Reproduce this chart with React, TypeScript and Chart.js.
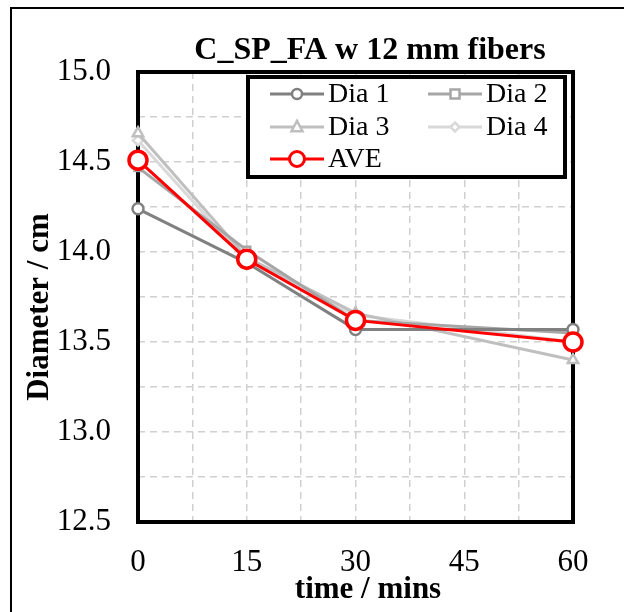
import React, { useEffect, useRef } from "react";
import { Chart, registerables } from "chart.js";

Chart.register(...registerables);

const times = [0, 15, 30, 60];
const dia1 = [14.24, 13.94, 13.57, 13.57];
const dia2 = [14.47, 14.01, 13.62, 13.55];
const dia3 = [14.66, 13.97, 13.66, 13.4];
const dia4 = [14.62, 13.95, 13.65, 13.5];
const ave = [14.51, 13.96, 13.62, 13.5];
const seriesNames = ["Dia 1", "Dia 2", "Dia 3", "Dia 4", "AVE"];
const xTickLabels = ["0", "15", "30", "45", "60"];
const yTickLabels = ["12.5", "13.0", "13.5", "14.0", "14.5", "15.0"];
const titleText = "C_SP_FA w 12 mm fibers";
const xTitle = "time / mins";
const yTitle = "Diameter / cm";

const SERIF = "'Liberation Serif', 'Times New Roman', serif";

type Style = { color: string; shape: string; r: number; lw: number };
const styles: Style[] = [
  { color: "#808080", shape: "circle", r: 5.5, lw: 3 },
  { color: "#a6a6a6", shape: "rect", r: 5, lw: 3 },
  { color: "#bfbfbf", shape: "triangle", r: 6, lw: 3 },
  { color: "#d9d9d9", shape: "rectRot", r: 5, lw: 3 },
  { color: "#ff0000", shape: "circle", r: 9, lw: 3 },
];

function drawMarker(ctx: CanvasRenderingContext2D, shape: string, x: number, y: number, r: number, color: string, bw: number) {
  ctx.save();
  ctx.fillStyle = "#ffffff";
  ctx.strokeStyle = color;
  ctx.lineWidth = bw;
  ctx.setLineDash([]);
  ctx.beginPath();
  if (shape === "circle") {
    ctx.arc(x, y, r, 0, Math.PI * 2);
  } else if (shape === "rect") {
    ctx.rect(x - r, y - r, 2 * r, 2 * r);
  } else if (shape === "triangle") {
    ctx.moveTo(x, y - r * 1.1);
    ctx.lineTo(x + r, y + r * 0.75);
    ctx.lineTo(x - r, y + r * 0.75);
    ctx.closePath();
  } else if (shape === "rectRot") {
    ctx.moveTo(x, y - r);
    ctx.lineTo(x + r, y);
    ctx.lineTo(x, y + r);
    ctx.lineTo(x - r, y);
    ctx.closePath();
  }
  ctx.fill();
  ctx.stroke();
  ctx.restore();
}

const decorPlugin = {
  id: "decor",
  beforeDraw(chart: any) {
    const ctx = chart.ctx as CanvasRenderingContext2D;
    ctx.save();
    ctx.fillStyle = "#ffffff";
    ctx.fillRect(0, 0, chart.width, chart.height);
    ctx.strokeStyle = "#000000";
    ctx.lineWidth = 2;
    ctx.strokeRect(11, 8, 2000, 2000);
    ctx.restore();
  },
  beforeDatasetsDraw(chart: any) {
    const ctx = chart.ctx as CanvasRenderingContext2D;
    const a = chart.chartArea;
    ctx.save();
    ctx.strokeStyle = "#000000";
    ctx.lineWidth = 4;
    ctx.setLineDash([]);
    ctx.strokeRect(a.left, a.top, a.right - a.left, a.bottom - a.top);
    ctx.restore();
  },
  afterDraw(chart: any) {
    const ctx = chart.ctx as CanvasRenderingContext2D;
    ctx.save();
    ctx.fillStyle = "#000000";
    ctx.textAlign = "center";
    ctx.textBaseline = "alphabetic";
    // title
    ctx.font = `bold 32px ${SERIF}`;
    ctx.fillText(titleText, 370, 59);
    // x title
    ctx.font = `bold 31px ${SERIF}`;
    ctx.fillText(xTitle, 368, 598);
    // y title
    ctx.save();
    ctx.translate(48, 307);
    ctx.rotate(-Math.PI / 2);
    ctx.fillText(yTitle, 0, 0);
    ctx.restore();

    // legend
    const bx = 248, by = 77, bw = 317, bh = 100;
    ctx.fillStyle = "#ffffff";
    ctx.fillRect(bx, by, bw, bh);
    ctx.strokeStyle = "#000000";
    ctx.lineWidth = 4;
    ctx.strokeRect(bx, by, bw, bh);
    const pos = [
      [270, 94], [428, 94],
      [270, 127], [428, 127],
      [270, 159],
    ];
    ctx.font = `28px ${SERIF}`;
    ctx.textAlign = "left";
    ctx.textBaseline = "middle";
    chart.data.datasets.forEach((ds: any, i: number) => {
      const st = styles[i];
      const [lx, ly] = pos[i];
      ctx.strokeStyle = st.color;
      ctx.lineWidth = st.lw;
      ctx.beginPath();
      ctx.moveTo(lx, ly);
      ctx.lineTo(lx + 54, ly);
      ctx.stroke();
      drawMarker(ctx, st.shape, lx + 27, ly, i === 4 ? 7.5 : st.r - 0.5, st.color, i === 4 ? 3 : 2.5);
      ctx.fillStyle = "#000000";
      ctx.fillText(ds.label, lx + 58, ly + 1);
    });
    ctx.restore();
  },
};

export default function App() {
  const ref = useRef<HTMLCanvasElement | null>(null);
  useEffect(() => {
    document.body.style.margin = "0";
    const all = [dia1, dia2, dia3, dia4, ave];
    const datasets = all.map((vals, i) => ({
      label: seriesNames[i],
      data: vals.map((v, j) => ({ x: times[j], y: v })),
      borderColor: styles[i].color,
      backgroundColor: "#ffffff",
      borderWidth: styles[i].lw,
      pointStyle: styles[i].shape,
      pointRadius: styles[i].r,
      pointBorderWidth: i === 4 ? 3.5 : 2.5,
      pointBackgroundColor: "#ffffff",
      pointBorderColor: styles[i].color,
      tension: 0,
      clip: false as any,
      order: i === 4 ? 0 : i + 1,
    }));
    const chart = new Chart(ref.current!, {
      type: "line",
      data: { datasets },
      plugins: [decorPlugin],
      options: {
        animation: false,
        responsive: false,
        events: [],
        layout: { padding: { left: 0, top: 72, right: 51, bottom: 0 } },
        plugins: { legend: { display: false }, title: { display: false }, tooltip: { enabled: false } },
        scales: {
          x: {
            type: "linear",
            min: 0,
            max: 60,
            afterFit: (s: any) => { s.height = 90; },
            ticks: {
              stepSize: 7.5,
              autoSkip: false,
              maxRotation: 0,
              padding: 22,
              color: "#000000",
              font: { family: SERIF, size: 31 },
              callback: (v: any) => {
                const n = Number(v);
                const idx = Math.round(n / 15);
                return Math.abs(n - idx * 15) < 1e-6 ? xTickLabels[idx] : "";
              },
            },
            grid: { color: "#d0d0d0", lineWidth: 1.5, drawTicks: false },
            border: { display: false, dash: [7, 5] },
          },
          y: {
            type: "linear",
            min: 12.5,
            max: 15,
            afterFit: (s: any) => { s.width = 138; },
            ticks: {
              stepSize: 0.25,
              autoSkip: false,
              padding: 27,
              color: "#000000",
              font: { family: SERIF, size: 31 },
              callback: (v: any) => {
                const n = Number(v);
                const idx = Math.round((n - 12.5) / 0.5);
                return Math.abs(n - (12.5 + idx * 0.5)) < 1e-6 ? yTickLabels[idx] : "";
              },
            },
            grid: { color: "#d0d0d0", lineWidth: 1.5, drawTicks: false },
            border: { display: false, dash: [7, 5] },
          },
        },
      } as any,
    });
    return () => chart.destroy();
  }, []);
  return (
    <div style={{ width: 624, height: 612 }}>
      <canvas ref={ref} width={624} height={612} style={{ display: "block" }} />
    </div>
  );
}
